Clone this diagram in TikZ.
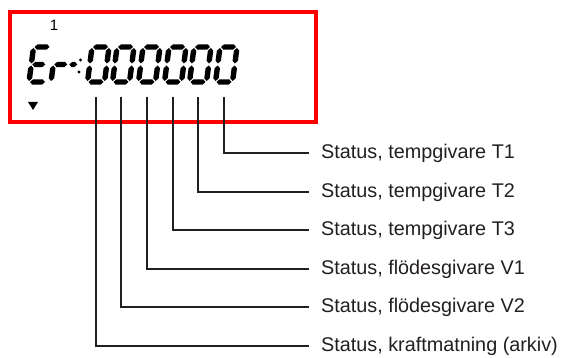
\documentclass[tikz,border=0pt]{standalone}
\usepackage{fontspec}
\setmainfont{Liberation Sans}
\definecolor{lcdred}{RGB}{255,0,0}
\definecolor{ink}{RGB}{35,31,32}
\newcommand\hsg[3]{\fill (#1,#3) -- (#1+2.7,#3+2.7) -- (#2-2.7,#3+2.7) -- (#2,#3) -- (#2-2.7,#3-2.7) -- (#1+2.7,#3-2.7) -- cycle;}
\newcommand\vsg[3]{\fill (#1,#2) -- (#1+2.7,#2+2.7) -- (#1+2.7,#3-2.7) -- (#1,#3) -- (#1-2.7,#3-2.7) -- (#1-2.7,#2+2.7) -- cycle;}
\newcommand\lcdzero[1]{%
  \begin{scope}[shift={(#1-8.5,276)},xslant=0.13]
    \hsg{1}{16}{35}\vsg{17}{18.5}{34}\vsg{17}{1}{16.5}
    \hsg{1}{16}{0}\vsg{0}{1}{16.5}\vsg{0}{18.5}{34}
  \end{scope}}
\begin{document}
\begin{tikzpicture}[x=1pt,y=1pt,
  lbl/.style={anchor=west,inner xsep=12pt,inner ysep=0pt,font=\fontsize{19.8}{22}\selectfont,text=ink},
  conn/.style={draw=ink,line width=2pt}]
\useasboundingbox (0,0) rectangle (563,358);
% display frame
\draw[lcdred,line width=3.5pt] (10,346) rectangle (316,236);
\node[font=\fontsize{15}{16}\selectfont,inner sep=0pt] (one) at (54,333) {1};
\fill (28,256) -- (38,256) -- (33,248) -- cycle;
% LCD characters
\begin{scope}[fill=black]
  % E
  \begin{scope}[shift={(29,276)},xslant=0.13]
    \hsg{1}{16}{35}\hsg{1}{14}{17.5}\hsg{1}{16}{0}\vsg{0}{1}{16.5}\vsg{0}{18.5}{34}
  \end{scope}
  % r and dash
  \begin{scope}[shift={(51,276)},xslant=0.13]
    \vsg{0}{1}{16.5}\hsg{1}{14}{17.5}\hsg{16}{24}{17.5}
  \end{scope}
  % colon
  \fill (80.5,298) circle (1.7);
  \fill (79,286) circle (1.7);
  \lcdzero{96}\lcdzero{121}\lcdzero{147}\lcdzero{173}\lcdzero{198}\lcdzero{224}
\end{scope}
% digit feet
\coordinate (c1) at (224,261);
\coordinate (c2) at (198,261);
\coordinate (c3) at (173,261);
\coordinate (c4) at (147,261);
\coordinate (c5) at (121,261);
\coordinate (c6) at (96,261);
% labels
\node[lbl] (t1) at (309,205) {Status, tempgivare T1};
\node[lbl] (t2) at (309,166) {Status, tempgivare T2};
\node[lbl] (t3) at (309,128) {Status, tempgivare T3};
\node[lbl] (v1) at (309,89) {Status, flödesgivare V1};
\node[lbl] (v2) at (309,51) {Status, flödesgivare V2};
\node[lbl] (pw) at (309,12) {Status, kraftmatning (arkiv)};
% connectors
\draw[conn] (c1) |- (t1.west);
\draw[conn] (c2) |- (t2.west);
\draw[conn] (c3) |- (t3.west);
\draw[conn] (c4) |- (v1.west);
\draw[conn] (c5) |- (v2.west);
\draw[conn] (c6) |- (pw.west);
\end{tikzpicture}
\end{document}
